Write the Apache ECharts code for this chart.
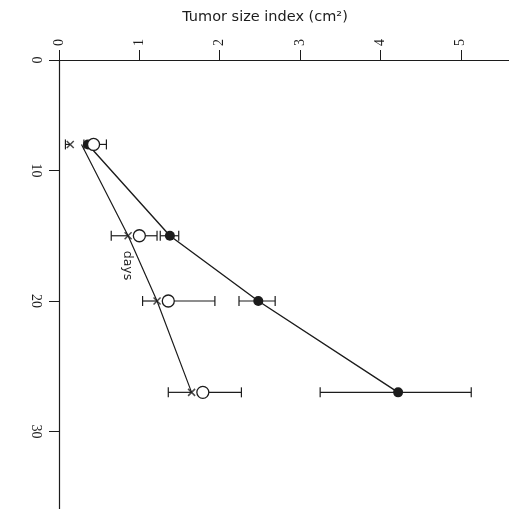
<!DOCTYPE html>
<html style="height: 100%; overflow: hidden">
<head>
<meta charset="utf-8">
<script src="https://cdn.jsdelivr.net/npm/echarts@6/dist/echarts.min.js"></script>
</head>
<body style="height: 100%; margin: 0; background: #fff; overflow: hidden">
<div id="container" style="width: 100%; height: 100%"></div>
<script type="text/javascript">
// days of measurement (vertical axis, growing downward)
var days = [8, 15, 20, 27];

// filled circles, with both halves of the error bar
var filledSize = [0.36, 1.38, 2.48, 4.22];
var filledLow  = [0.31, 1.26, 2.24, 3.25];
var filledHigh = [0.41, 1.49, 2.69, 5.13];

// open circles, only the upper half of the bar is drawn
var openSize = [0.43, 1.00, 1.36, 1.79];
var openHigh = [0.59, 1.22, 1.94, 2.27];

// crosses, only the lower half of the bar is drawn
var crossSize = [0.14, 0.86, 1.22, 1.65];
var crossLow  = [0.08, 0.65, 1.04, 1.36];

// the thin straight line running through the crosses
var trendSize = [0.28, 0.86, 1.22, 1.65];

// tick labels
var sizeTicks = [0, 1, 2, 3, 4, 5];
var dayTop = 1.53;
var dayTicks = [dayTop, 10, 20, 30];
var dayLabels = ['0', '10', '20', '30'];

var ink = '#1c1c1c';

function pairs(xs) {
  return xs.map(function (x, i) { return [x, days[i]]; });
}
function bars(lo, hi) {
  return lo.map(function (l, i) { return [l, hi[i], days[i]]; });
}

// error bar drawn from value 0 to value 1, caps where asked
function barRenderer(capLow, capHigh) {
  return function (params, api) {
    var a = api.coord([api.value(0), api.value(2)]);
    var b = api.coord([api.value(1), api.value(2)]);
    var h = 5;
    var kids = [{
      type: 'line',
      shape: { x1: a[0], y1: a[1], x2: b[0], y2: b[1] },
      style: { stroke: ink, lineWidth: 1.2 }
    }];
    if (capLow) kids.push({
      type: 'line',
      shape: { x1: a[0], y1: a[1] - h, x2: a[0], y2: a[1] + h },
      style: { stroke: ink, lineWidth: 1.2 }
    });
    if (capHigh) kids.push({
      type: 'line',
      shape: { x1: b[0], y1: b[1] - h, x2: b[0], y2: b[1] + h },
      style: { stroke: ink, lineWidth: 1.2 }
    });
    return { type: 'group', children: kids };
  };
}

var dom = document.getElementById('container');
var myChart = echarts.init(dom);

var option = {
  backgroundColor: '#fff',
  animation: false,
  grid: { left: 59, top: 60, right: 0, bottom: 0 },
  xAxis: {
    type: 'value',
    position: 'top',
    min: 0,
    max: 5.6,
    name: 'Tumor size index (cm²)',
    nameLocation: 'middle',
    nameGap: 35,
    nameTextStyle: {
      fontFamily: 'DejaVu Sans', fontSize: 14.5, color: ink,
      padding: [0, 38, 0, 0]
    },
    axisLine: { onZero: false, lineStyle: { color: ink, width: 1.2 } },
    axisTick: { length: 10, customValues: sizeTicks, lineStyle: { color: ink } },
    axisLabel: {
      rotate: -90, margin: 14,
      customValues: sizeTicks,
      fontFamily: 'Liberation Serif', fontSize: 14, color: ink
    },
    splitLine: { show: false }
  },
  yAxis: {
    type: 'value',
    inverse: true,
    min: dayTop,
    max: 35.94,
    name: 'days',
    nameLocation: 'middle',
    nameRotate: -90,
    nameGap: -75,
    nameTextStyle: {
      fontFamily: 'DejaVu Sans', fontSize: 12.5, color: ink,
      padding: [0, 38, 0, 0]
    },
    axisLine: { onZero: false, lineStyle: { color: ink, width: 1.2 } },
    axisTick: { length: 10, customValues: dayTicks, lineStyle: { color: ink } },
    axisLabel: {
      rotate: -90, margin: 16,
      customValues: dayTicks,
      formatter: function (v) {
        return dayLabels[dayTicks.indexOf(v)];
      },
      fontFamily: 'Liberation Serif', fontSize: 14, color: ink
    },
    splitLine: { show: false }
  },
  series: [
    {
      type: 'custom',
      renderItem: barRenderer(true, true),
      encode: { x: [0, 1], y: 2 },
      data: bars(filledLow, filledHigh),
      z: 1
    },
    {
      type: 'custom',
      renderItem: barRenderer(false, true),
      encode: { x: [0, 1], y: 2 },
      data: bars(openSize, openHigh),
      z: 1
    },
    {
      type: 'custom',
      renderItem: barRenderer(true, false),
      encode: { x: [0, 1], y: 2 },
      data: bars(crossLow, crossSize),
      z: 1
    },
    {
      type: 'line',
      data: pairs(trendSize),
      showSymbol: false,
      lineStyle: { color: ink, width: 1.2 },
      z: 2
    },
    {
      type: 'line',
      data: pairs(filledSize),
      symbol: 'circle',
      symbolSize: 10,
      itemStyle: { color: ink },
      lineStyle: { color: ink, width: 1.4 },
      z: 3
    },
    {
      type: 'scatter',
      data: pairs(crossSize),
      symbol: 'path://M0,0L10,10M10,0L0,10',
      symbolSize: 7,
      itemStyle: { color: 'transparent', borderColor: ink, borderWidth: 1.5 },
      z: 4
    },
    {
      type: 'scatter',
      data: pairs(openSize),
      symbol: 'circle',
      symbolSize: 12,
      itemStyle: { color: '#fff', borderColor: ink, borderWidth: 1.3, opacity: 1 },
      z: 5
    }
  ]
};

myChart.setOption(option);
</script>
</body>
</html>
